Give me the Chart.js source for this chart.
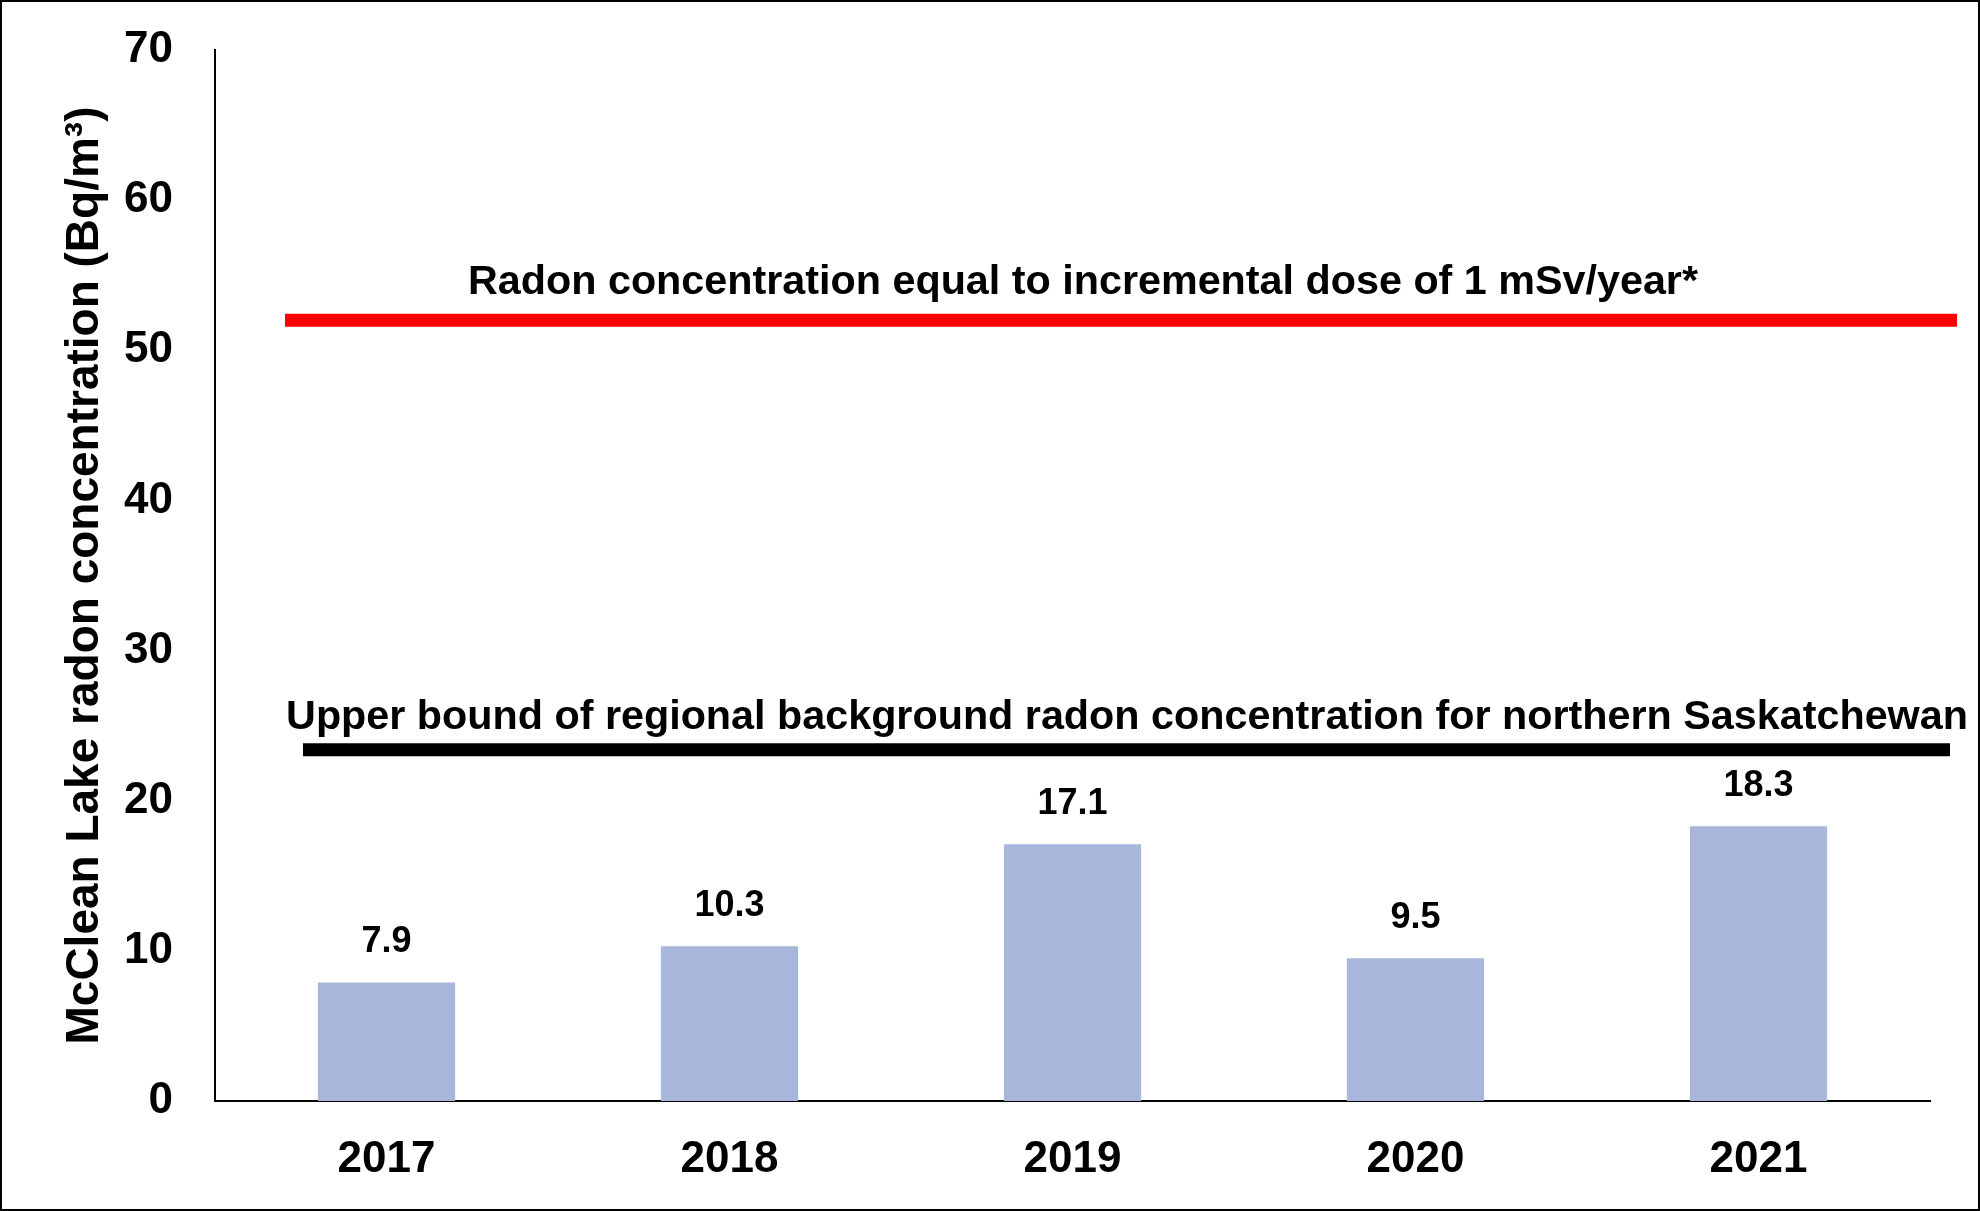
<!DOCTYPE html>
<html>
<head>
<meta charset="utf-8">
<script src="https://cdn.jsdelivr.net/npm/chart.js@4.4.0/dist/chart.umd.min.js"></script>
<style>
  html, body { margin: 0; padding: 0; background: #fff; }
  canvas { display: block; }
</style>
</head>
<body>
<canvas id="chart" width="1980" height="1211"></canvas>
<script>
const years = ['2017', '2018', '2019', '2020', '2021'];
const radon = [7.9, 10.3, 17.1, 9.5, 18.3];
const yTicks = [0, 10, 20, 30, 40, 50, 60, 70];
const refValues = [52, 23.4];
const refLabels = [
  'Radon concentration equal to incremental dose of 1 mSv/year*',
  'Upper bound of regional background radon concentration for northern Saskatchewan'
];
const refColors = ['#ff0000', '#000000'];

const FONT = '"Liberation Sans", Arial, sans-serif';

// frame, reference lines and the value labels over the bars
const extras = {
  id: 'extras',
  beforeDraw(chart) {
    const c = chart.ctx;
    c.save();
    c.fillStyle = '#fff';
    c.fillRect(0, 0, chart.width, chart.height);
    c.restore();
  },
  afterDraw(chart) {
    const c = chart.ctx;
    const y = chart.scales.y;
    const spans = [[285, 1957], [303, 1950]];
    const textX = [1083, 1127];
    const textGap = [38, 32];
    c.save();
    refValues.forEach((v, i) => {
      const py = y.getPixelForValue(v);
      c.strokeStyle = refColors[i];
      c.lineWidth = 13;
      c.beginPath();
      c.moveTo(spans[i][0], py);
      c.lineTo(spans[i][1], py);
      c.stroke();
      c.fillStyle = '#000';
      c.font = 'bold 41.3px ' + FONT;
      c.textAlign = 'center';
      c.textBaseline = 'middle';
      c.fillText(refLabels[i], textX[i], py - textGap[i]);
    });
    const meta = chart.getDatasetMeta(0);
    c.font = 'bold 36px ' + FONT;
    c.fillStyle = '#000';
    c.textAlign = 'center';
    c.textBaseline = 'middle';
    meta.data.forEach((bar, i) => {
      c.fillText(String(radon[i]), bar.x, bar.y - 40);
    });
    c.strokeStyle = '#000';
    c.lineWidth = 2;
    c.strokeRect(1, 1, chart.width - 2, chart.height - 2);
    c.restore();
  }
};

new Chart(document.getElementById('chart'), {
  type: 'bar',
  data: {
    labels: years,
    datasets: [{
      data: radon,
      backgroundColor: '#a9b6db',
      barPercentage: 0.4,
      categoryPercentage: 1.0
    }]
  },
  options: {
    responsive: false,
    animation: false,
    devicePixelRatio: 1,
    layout: { padding: { top: 50, right: 50, left: 0, bottom: 0 } },
    plugins: { legend: { display: false }, tooltip: { enabled: false } },
    scales: {
      x: {
        grid: { display: false, drawTicks: false },
        border: { display: true, color: '#000', width: 2 },
        ticks: { color: '#000', font: { family: FONT, size: 44, weight: 'bold' }, padding: 32 },
        afterFit(s) { s.height = 110; s.paddingLeft = 0; s.paddingRight = 0; }
      },
      y: {
        min: 0, max: 70,
        afterBuildTicks(s) { s.ticks = yTicks.map(v => ({ value: v })); },
        grid: { display: false, drawTicks: false },
        border: { display: true, color: '#000', width: 2 },
        ticks: { color: '#000', font: { family: FONT, size: 44, weight: 'bold' }, padding: 42 },
        title: {
          display: true,
          text: 'McClean Lake radon concentration (Bq/m³)',
          color: '#000',
          font: { family: FONT, size: 46, weight: 'bold' },
          padding: { top: 58, bottom: 0 }
        },
        afterFit(s) { s.width = 215; s.paddingTop = 0; s.paddingBottom = 0; }
      }
    }
  },
  plugins: [extras]
});
</script>
</body>
</html>
